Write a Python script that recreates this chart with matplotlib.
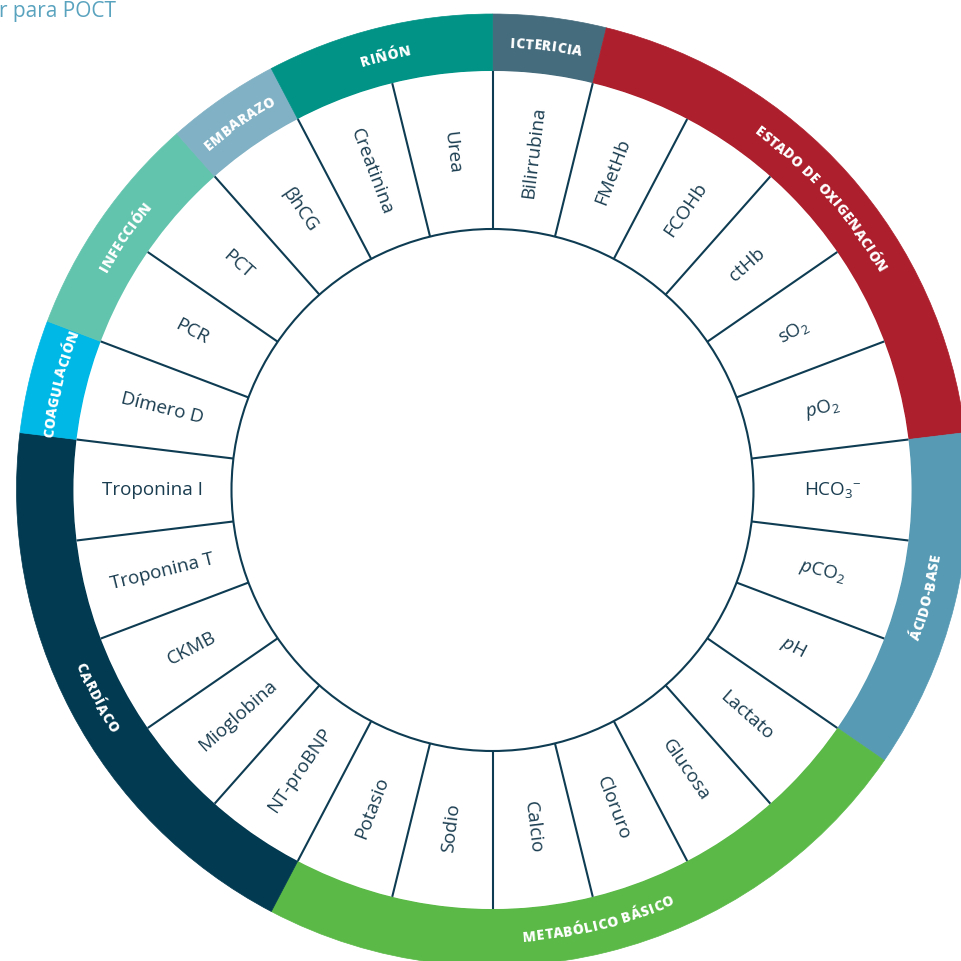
import numpy as np
import matplotlib
matplotlib.use("Agg")
import matplotlib.pyplot as plt
from matplotlib.patches import Wedge, Circle

plt.rcParams['font.family'] = ['Open Sans', 'DejaVu Sans']
plt.rcParams['mathtext.fontset'] = 'custom'
plt.rcParams['mathtext.rm'] = 'Open Sans'
plt.rcParams['mathtext.it'] = 'Open Sans:italic'
plt.rcParams['mathtext.bf'] = 'Open Sans:bold'

# -------------------------------------------------------
# DATA
# -------------------------------------------------------

# analytes, clockwise from the top
analytes = [
    "Bilirrubina", "FMetHb", "FCOHb", "ctHb", "sO$_2$", r"$\mathit{p}$O$_2$",
    "HCO$_3{}^{-}$", r"$\mathit{p}$CO$_2$", r"$\mathit{p}$H",
    "Lactato", "Glucosa", "Cloruro", "Calcio", "Sodio", "Potasio",
    "NT-proBNP", "Mioglobina", "CKMB", "Troponina T", "Troponina I",
    "Dímero D", "PCR", "PCT", "βhCG", "Creatinina", "Urea",
]

categories = [
    "ICTERICIA", "ESTADO DE OXIGENACIÓN", "ÁCIDO-BASE", "METABÓLICO BÁSICO",
    "CARDÍACO", "COAGULACIÓN", "INFECCIÓN", "EMBARAZO", "RIÑÓN",
]
category_counts = [1, 5, 3, 6, 5, 1, 2, 1, 2]
category_colors = [
    "#456c7d", "#ad1f2c", "#569ab4", "#5ab947",
    "#023a51", "#00b8e6", "#63c4ae", "#80b1c4", "#009386",
]

title = "r para POCT"

# -------------------------------------------------------
# GEOMETRY (pixels)
# -------------------------------------------------------

W = 961
cx, cy = 492.5, W - 490
r_in, r_mid, r_out = 261, 419, 476
line_col = "#0e3c52"
text_col = "#1a3d50"

n = len(analytes)
step = 360.0 / n

fig = plt.figure(figsize=(9.61, 9.61), dpi=100)
ax = fig.add_axes([0, 0, 1, 1])
ax.set_xlim(0, W)
ax.set_ylim(0, W)
ax.set_aspect('equal')
ax.axis('off')

renderer = fig.canvas.get_renderer()


def cw_to_theta(cw):
    return 90.0 - cw


# outer band
start = 0
for name, count, col in zip(categories, category_counts, category_colors):
    t1 = cw_to_theta((start + count) * step)
    t2 = cw_to_theta(start * step)
    ax.add_patch(Wedge((cx, cy), r_out, t1, t2, width=r_out - r_mid,
                       facecolor=col, edgecolor=col, lw=0.5))
    start += count

# white ring + inner circle
ax.add_patch(Circle((cx, cy), r_mid, facecolor="white", edgecolor="none"))
ax.add_patch(Circle((cx, cy), r_in, facecolor="white", edgecolor=line_col,
                    lw=1.5, zorder=3))

# radial separators
for i in range(n):
    th = np.radians(cw_to_theta(i * step))
    ax.plot([cx + r_in * np.cos(th), cx + r_mid * np.cos(th)],
            [cy + r_in * np.sin(th), cy + r_mid * np.sin(th)],
            color=line_col, lw=1.5, solid_capstyle='butt', zorder=3)

# analyte labels
r_lab = 340
for i, lab in enumerate(analytes):
    theta = cw_to_theta((i + 0.5) * step)
    th = np.radians(theta)
    rot = theta if np.cos(th) >= 0 else theta + 180
    ax.text(cx + r_lab * np.cos(th), cy + r_lab * np.sin(th), lab,
            rotation=rot, rotation_mode='anchor', ha='center', va='center',
            fontsize=13.6, color=text_col, zorder=4)


# curved category labels
CAT_SIZE = 10
CAT_WEIGHT = 800


def text_width(s):
    if not s:
        return 0.0
    t = ax.text(0, 0, s.replace(" ", "\u00a0"), fontsize=CAT_SIZE,
                fontweight=CAT_WEIGHT)
    bb = t.get_window_extent(renderer=renderer)
    t.remove()
    return bb.width


def curved_text(label, theta_c, radius, tracking=0.5):
    ends = [text_width(label[:k + 1]) + tracking * k for k in range(len(label))]
    starts = [0.0] + ends[:-1]
    total = ends[-1]
    lower = np.sin(np.radians(theta_c)) < -0.05
    sign = 1 if lower else -1
    cap = CAT_SIZE / 72 * 100 * 0.72
    r_base = radius + cap / 2 if lower else radius - cap / 2
    for k, ch in enumerate(label):
        if ch == " ":
            continue
        mid = (starts[k] + ends[k]) / 2.0 - total / 2.0
        a = theta_c + sign * np.degrees(mid / radius)
        ar = np.radians(a)
        rot = a + 90 if lower else a - 90
        ax.text(cx + r_base * np.cos(ar), cy + r_base * np.sin(ar), ch,
                rotation=rot, rotation_mode='anchor', ha='center',
                va='baseline', fontsize=CAT_SIZE, fontweight=CAT_WEIGHT,
                color='white', zorder=5)


start = 0
r_cat = (r_mid + r_out) / 2.0
for name, count in zip(categories, category_counts):
    theta_c = cw_to_theta((start + count / 2.0) * step)
    curved_text(name, theta_c, r_cat)
    start += count

# title fragment in the corner
ax.text(-1, W - 12, title, fontsize=15, color="#5aa3bf", ha='left',
        va='center')

fig.savefig("out.png", dpi=100)
